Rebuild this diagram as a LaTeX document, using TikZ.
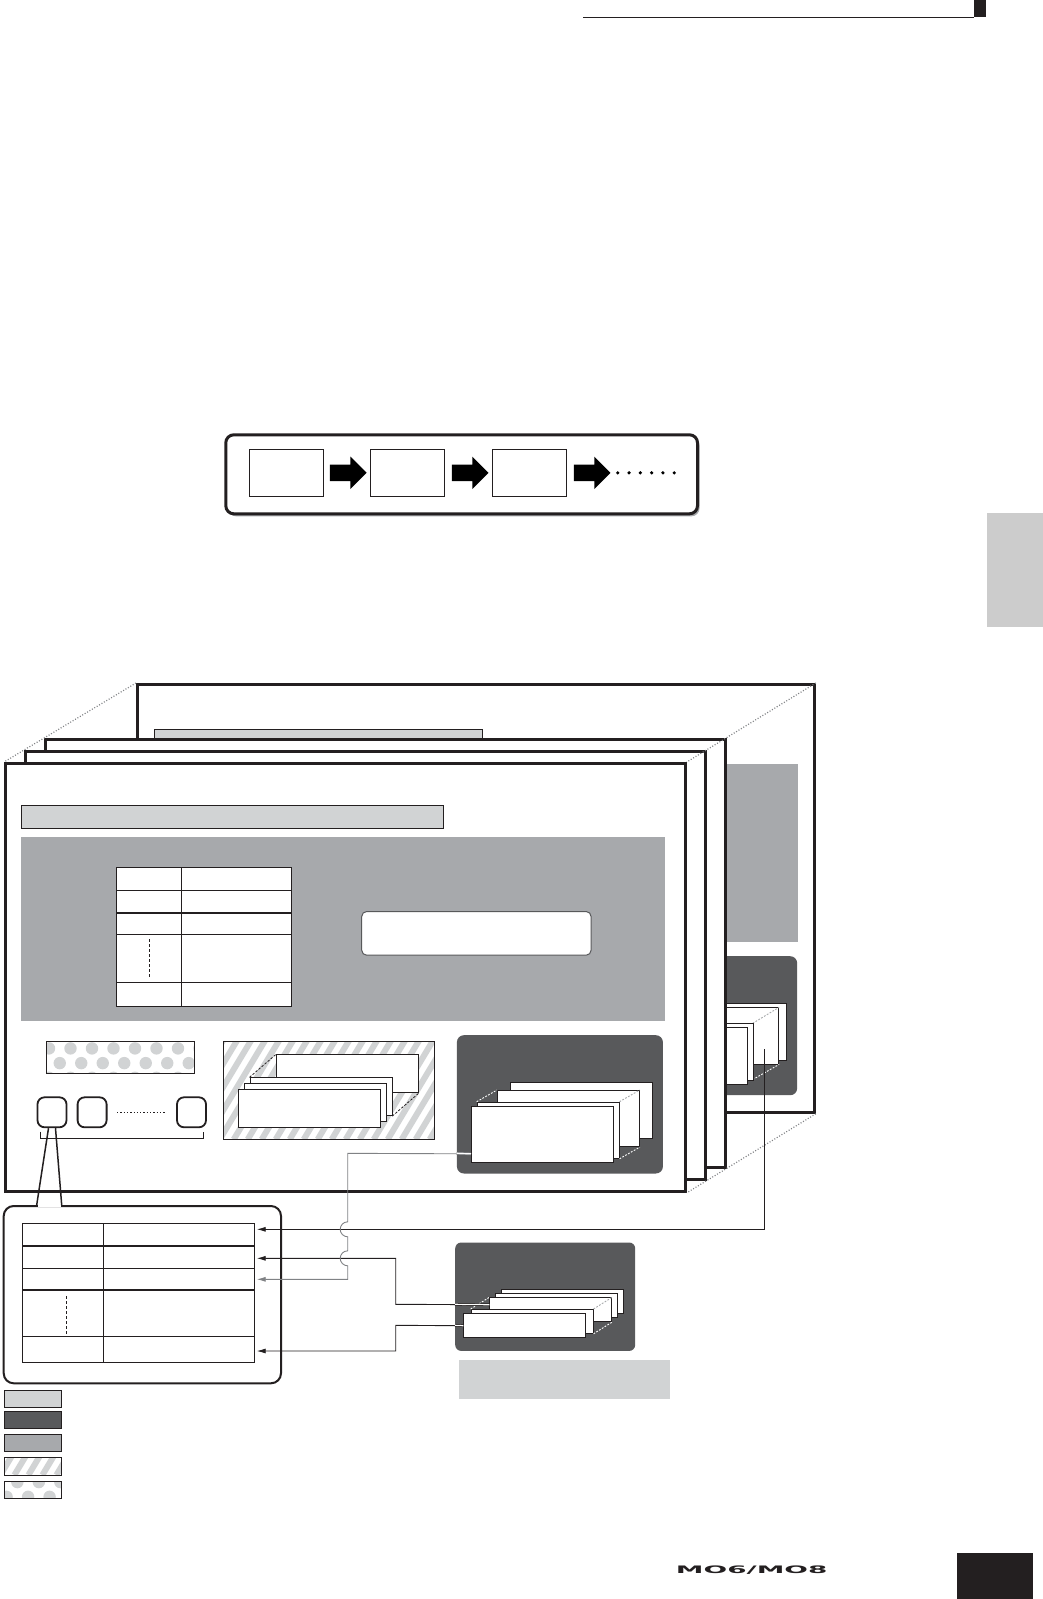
\documentclass[tikz,border=0pt]{standalone}
\usepackage{fontspec}
\usepackage{graphicx}
\usepackage{tikz}
\usetikzlibrary{arrows.meta,positioning,shadows,shapes.arrows}
\newfontfamily\logofont{DejaVu Sans}
\definecolor{MOInk}{RGB}{35,31,32}
\definecolor{MOLight}{RGB}{209,211,212}
\definecolor{MOMid}{RGB}{167,169,172}
\definecolor{MODark}{RGB}{88,89,91}
\definecolor{MOTab}{RGB}{204,204,204}
\definecolor{MOWire}{RGB}{128,130,133}

\begin{document}
\begin{tikzpicture}[x=1pt, y=-1pt,
  panel/.style={draw=MOInk, line width=2.8pt, fill=white, anchor=north west, inner sep=0, minimum width=680pt, minimum height=428pt},
  flowframe/.style={draw=MOInk, line width=3pt, rounded corners=8pt, fill=white, anchor=north west, inner sep=0,
    drop shadow={shadow xshift=2pt, shadow yshift=-2.5pt, fill=MOMid, opacity=1}},
  stepbox/.style={draw=MOInk, line width=0.9pt, fill=white, minimum width=74pt, minimum height=47pt, inner sep=0},
  fatarrow/.style={single arrow, fill=black, inner xsep=0pt, inner ysep=8pt, minimum height=36.7pt, single arrow head extend=8pt},
  bar/.style={draw=MOInk, line width=0.8pt, fill=MOLight, anchor=north west, inner sep=0},
  area/.style={fill=MOMid, anchor=north west, inner sep=0},
  darkbox/.style={fill=MODark, rounded corners=7pt, anchor=north west, inner sep=0},
  card/.style={draw=MOInk, line width=0.8pt, fill=white, anchor=north west, inner sep=0},
  dcard/.style={card, minimum width=142pt, minimum height=56.3pt},
  hcard/.style={card, minimum width=142pt, minimum height=38pt},
  scard/.style={card, minimum width=122pt, minimum height=24pt},
  cell/.style={draw=MOInk, line width=1.1pt, fill=white, anchor=north west, inner sep=0},
  rule/.style={draw=MOInk, line width=1.1pt},
  keycap/.style={draw=MOInk, line width=1.8pt, rounded corners=7pt, fill=white, minimum width=29pt, minimum height=30pt, inner sep=0},
  swatch/.style={draw=MOInk, line width=0.8pt, anchor=north west, inner sep=0, minimum width=56.7pt, minimum height=17.3pt},
  guide/.style={draw=MOWire, line width=1.2pt, dash pattern=on 1pt off 1.8pt},
  depthw/.style={draw=white, line width=0.9pt, dash pattern=on 1.8pt off 1.5pt},
  depthg/.style={draw=MOMid, line width=0.9pt, dash pattern=on 1.8pt off 1.5pt},
  depthk/.style={draw=MOInk, line width=0.8pt, dash pattern=on 2.5pt off 1.5pt},
  wire/.style={draw=MOInk, line width=0.9pt, -{Latex[length=9pt,width=5pt]}},
  graywire/.style={wire, draw=MOWire},
  hatchfill/.style={path picture={
    \foreach \i in {0,...,22}
      \draw[MOLight, line width=6pt] ([xshift=\i*14pt-60pt]path picture bounding box.south west) -- ++(60pt,100pt);}},
  dotfill/.style={path picture={
    \foreach \row in {0,...,3} \foreach \col in {-1,...,8}
      \fill[MOLight] ([xshift={2.2pt+\col*21.5pt+mod(\row+1,2)*10.75pt}, yshift={#1-\row*14.7pt}]path picture bounding box.north west) circle[radius=6.2pt];}}
]
\useasboundingbox (0,0) rectangle (1043,1599);

% page marks
\draw[MOInk, line width=1pt] (583,17) -- (974,17);
\fill[MOInk] (974,0) rectangle (986,17.3);
\fill[MOTab] (986.7,512.7) rectangle (1043,626.7);
\fill[MOInk] (956.7,1553) rectangle (1033,1599);
\node[font=\logofont\bfseries\fontsize{10.3}{11}\selectfont, text=MOInk, inner sep=0] (logo) at (751.7,1570) {\scalebox{2.7}[1]{MO6/MO8}};

% chain
\node[flowframe, minimum width=471.7pt, minimum height=79pt] (flow) at (224.3,433.3) {};
\node[stepbox] (s1) at (286,472.8) {};
\node[stepbox, right=47pt of s1] (s2) {};
\node[stepbox, right=47pt of s2] (s3) {};
\node[fatarrow, right=6.3pt of s1] (a1) {};
\node[fatarrow, right=6.3pt of s2] (a2) {};
\node[fatarrow, right=6.3pt of s3] (a3) {};
\foreach \i in {0,...,5} \fill ([xshift=7pt+\i*11.3pt]a3.east) circle[radius=1.8pt];

% back panel
\node[panel, minimum width=677pt] (p4) at (136,683) {};
\node[bar, minimum width=327.4pt, minimum height=20pt] (p4bar) at (154.3,729.3) {};
\node[area, minimum width=646pt, minimum height=178pt] (p4area) at (152,764) {};
\node[darkbox, minimum width=208pt, minimum height=139pt] (p4dark) at (589,956) {};
\node[dcard] (q4) at (643.7,1003.3) {};
\node[dcard] (q3) at (636.3,1007.3) {};
\draw[depthg] (610.7,1023.3) ++(142,0) -- (q3.north east);
\draw[depthw] (752.7,1079.6) -- (q3.south east);
\node[dcard] (q2) at (610.7,1023.3) {};
\node[dcard] (q1) at (604.7,1027.3) {};
\coordinate (p4src) at (764,1049);

\node[panel] (p3) at (44,738) {};
\node[panel] (p2) at (24,750) {};
\node[panel] (p1) at (4,762) {};

\draw[guide] (p4.north west) -- (p1.north west);
\draw[guide] (p4.north east) -- (p1.north east);
\draw[guide] (p4.south east) -- (p1.south east);

% front panel
\node[bar, minimum width=422.4pt, minimum height=23.8pt] (title) at (20.8,804.5) {};
\node[area, minimum width=644pt, minimum height=184.3pt] (common) at (20.8,836.7) {};
\node[cell, minimum width=174.3pt, minimum height=138.7pt] (ptab) at (116.2,867.3) {};
\foreach \y in {890.3,913,934.3,982.7} \draw[rule] (116.2,\y) -- (290.5,\y);
\draw[rule] (181.3,867.3) -- (181.3,1006);
\draw[rule, line width=0.9pt, dash pattern=on 3pt off 2pt] (149.6,939.3) -- (149.6,977.3);
\node[draw=MODark, line width=1pt, fill=white, rounded corners=5pt, anchor=north west, inner sep=0,
  minimum width=229.4pt, minimum height=43.7pt] (lcd) at (361.2,911) {};

\node[card, dotfill=7.4pt, minimum width=147.9pt, minimum height=32.6pt] (perf) at (46.4,1040.7) {};
\node[keycap] (k1) at (52,1112.3) {};
\node[keycap] (k2) at (92.1,1112.3) {};
\node[keycap] (k3) at (191.5,1112.3) {};
\draw[MOInk, line width=1.3pt, dash pattern=on 1.3pt off 2pt] ([xshift=9.5pt]k2.east) -- ([xshift=-10pt]k3.west);
\draw[MOInk, line width=0.8pt] (39.9,1131.7) -- (39.9,1138.3) -- (203,1138.3) -- (203,1131.7);

\node[card, hatchfill, minimum width=210.4pt, minimum height=98.3pt] (ubox) at (223.3,1040.7) {};
\node[hcard] (hc4) at (276,1054.3) {};
\node[hcard] (hc3) at (249.5,1077.3) {};
\node[hcard] (hc2) at (243.5,1083.3) {};
\node[hcard] (hc1) at (237.5,1089.3) {};
\draw[depthk] (hc3.north west) -- (hc4.north west);
\draw[depthk] (hc3.south east) -- (hc4.south east);

\node[darkbox, minimum width=206pt, minimum height=138.3pt] (dkbox) at (456.7,1035) {};
\node[dcard] (dk4) at (509.5,1081.7) {};
\node[dcard] (dk3) at (497,1090) {};
\node[dcard] (dk2) at (476.7,1101.7) {};
\draw[depthw] (dk2.north west) -- (dk3.north west);
\draw[depthg] (dk2.north east) -- (dk3.north east);
\draw[depthw] (dk2.south east) -- (dk3.south east);
\node[dcard] (dk1) at (471,1106) {};

% zoomed part
\node[draw=MOInk, line width=2pt, rounded corners=10pt, fill=white, anchor=north west, inner sep=0,
  minimum width=277.3pt, minimum height=177.3pt] (callout) at (2.7,1205) {};
\fill[white] (37.7,1203.5) rectangle (60.7,1206.5);
\draw[MOInk, line width=1.5pt] ([xshift=-3.5pt]k1.south) -- ([xshift=34pt]callout.north west);
\draw[MOInk, line width=1.5pt] ([xshift=3.5pt]k1.south) -- ([xshift=59pt]callout.north west);
\node[cell, minimum width=231.7pt, minimum height=138.4pt] (ctab) at (22.3,1223.3) {};
\foreach \y in {1246,1268.3,1290,1336.7} \draw[rule] (22.3,\y) -- (254,\y);
\draw[rule] (103.3,1223.3) -- (103.3,1361.7);
\draw[rule, line width=0.9pt, dash pattern=on 3pt off 2pt] (66.7,1296) -- (66.7,1334);

\node[darkbox, rounded corners=6pt, minimum width=180pt, minimum height=108.4pt] (smbox) at (455,1242.3) {};
\node[scard] (sm5) at (501.3,1289.3) {};
\node[scard] (sm4) at (495,1293.3) {};
\node[scard] (sm3) at (489.3,1297.3) {};
\node[scard] (sm2) at (470.7,1309) {};
\draw[depthw] (sm2.north west) -- (sm3.north west);
\draw[depthg] (sm2.north east) -- (sm3.north east);
\draw[depthw] (sm2.south east) -- (sm3.south east);
\node[scard] (sm1) at (463.3,1313.3) {};
\node[fill=MOLight, anchor=north west, inner sep=0, minimum width=211pt, minimum height=39pt] (smlabel) at (459,1360) {};

% connectors
\coordinate (in1) at (256.7,1229.3);
\coordinate (in2) at (256.7,1258.3);
\coordinate (in3) at (256.7,1279.3);
\coordinate (in5) at (256.7,1351);
\draw[wire] (p4src) |- (in1);
\draw[wire] ([yshift=5pt]sm3.west) -- (395.7,1304.3) |- (in2);
\draw[wire] (sm1.west) -- (395.7,1325.3) |- (in5);
\draw[graywire] ([yshift=-19.3pt]dk1.west) -- (347.7,1153.3) -- (347.7,1221.8)
  arc[start angle=-90, end angle=-270, radius=7.5] -- (347.7,1250.8)
  arc[start angle=-90, end angle=-270, radius=7.5] -- (347.7,1279.3) -- (in3);
\draw[MOWire, line width=0.7pt, double=white, double distance=1.2pt] (456.7,1153.3) -- ([yshift=-19.3pt]dk1.west);
\draw[MOInk, line width=0.7pt, double=white, double distance=1.2pt] (455,1304.3) -- ([yshift=5pt]sm3.west);
\draw[MOInk, line width=0.7pt, double=white, double distance=1.2pt] (455,1325.3) -- (sm1.west);

% legend
\node[swatch, fill=MOLight] (lg1) at (4,1390) {};
\node[swatch, fill=MODark] (lg2) at (4,1411) {};
\node[swatch, fill=MOMid] (lg3) at (4,1434) {};
\node[swatch, fill=white, hatchfill] (lg4) at (4,1457.3) {};
\node[swatch, fill=white, dotfill=-1pt] (lg5) at (4,1480.7) {};
\end{tikzpicture}
\end{document}
